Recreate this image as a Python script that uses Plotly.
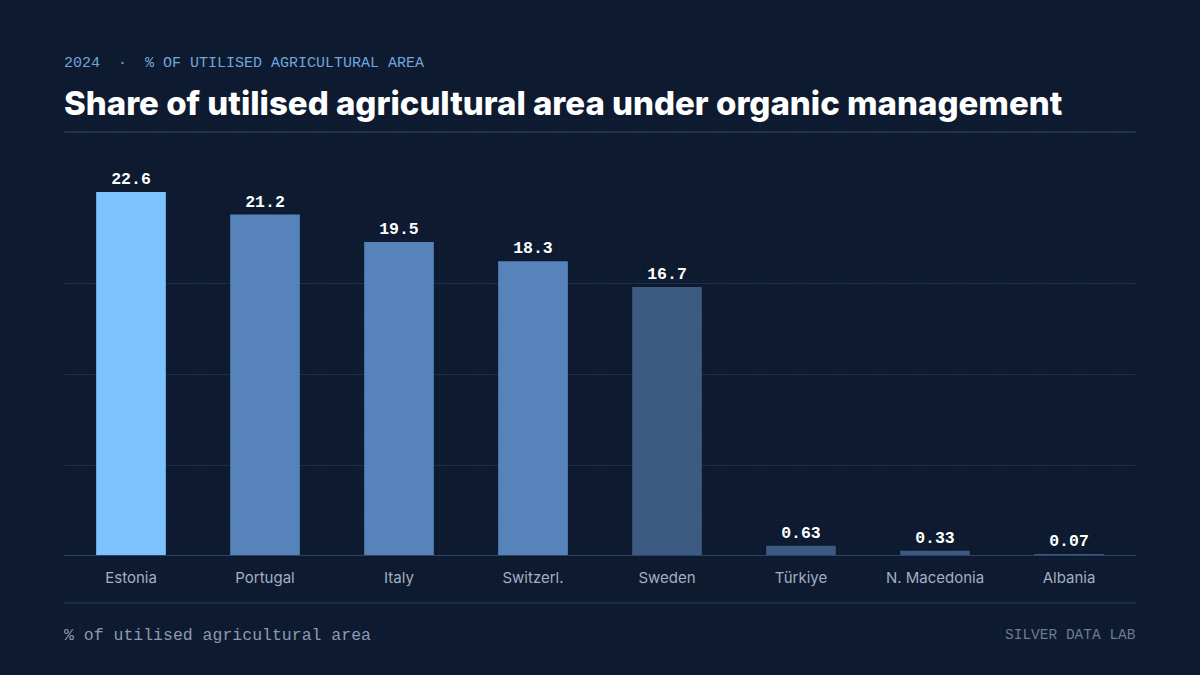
import plotly.graph_objects as go

countries = ["Estonia", "Portugal", "Italy", "Switzerl.", "Sweden", "Türkiye", "N. Macedonia", "Albania"]
shares = [22.6, 21.2, 19.5, 18.3, 16.7, 0.63, 0.33, 0.07]
bar_colors = ["#7cc2ff", "#5783bb", "#5783bb", "#5783bb", "#3d5a82", "#3d5a82", "#3d5a82", "#3d5a82"]

W, H = 1200, 675
L, R, T, B = 64, 64, 150, 119
BG = "#0d1a30"
MONO = "Liberation Mono, DejaVu Sans Mono, monospace"
SANS = "Inter, Roboto, sans-serif"

ymax = max(shares) * (H - T - B) / 364.0
grid_vals = [max(shares) * k / 4 for k in (1, 2, 3)]

fig = go.Figure()
fig.add_trace(go.Bar(
    x=countries, y=shares,
    marker=dict(color=bar_colors, line=dict(width=0)),
    text=[f"{v:g}" for v in shares],
    textposition="outside",
    cliponaxis=False,
    textfont=dict(family=MONO, size=16.5, color="#ffffff", weight="bold"),
    hoverinfo="skip",
))

# background decorative grid (40px cells) in paper coords
pw, ph = W - L - R, H - T - B
shapes = []
for px in range(0, W + 1, 40):
    xf = (px - L) / pw
    shapes.append(dict(type="line", xref="paper", yref="paper", x0=xf, x1=xf,
                       y0=-B / ph, y1=(H - B) / ph,
                       line=dict(color="#13213a", width=1), layer="below"))
for py in range(0, H + 1, 40):
    yf = (H - B - py) / ph
    shapes.append(dict(type="line", xref="paper", yref="paper", x0=-L / pw, x1=(W - L) / pw,
                       y0=yf, y1=yf, line=dict(color="#13213a", width=1), layer="below"))
# header rule & footer rule
for py, col in ((132, "#2a3d5e"), (603, "#22344f")):
    yf = (H - B - py) / ph
    shapes.append(dict(type="line", xref="paper", yref="paper", x0=0, x1=1, y0=yf, y1=yf,
                       line=dict(color=col, width=1.5)))
# baseline
shapes.append(dict(type="line", xref="paper", yref="y", x0=0, x1=1, y0=0, y1=0,
                   line=dict(color="#2e4466", width=2), layer="above"))

fig.update_layout(
    width=W, height=H,
    paper_bgcolor=BG, plot_bgcolor="rgba(0,0,0,0)",
    margin=dict(l=L, r=R, t=T, b=B),
    bargap=0.48,
    showlegend=False,
    shapes=shapes,
    xaxis=dict(showgrid=False, zeroline=False, showline=False, ticks="",
               tickfont=dict(family=SANS, size=15, color="#a3afc2"),
               ticklabelstandoff=11, fixedrange=True),
    yaxis=dict(range=[0, ymax], tickvals=grid_vals, showticklabels=False,
               gridcolor="#1e2f4b", gridwidth=1, zeroline=False, showline=False,
               fixedrange=True),
    annotations=[
        dict(text="2024  ·  % OF UTILISED AGRICULTURAL AREA", xref="paper", yref="paper",
             x=0, y=(H - B - 63) / ph, xanchor="left", yanchor="middle", showarrow=False,
             xshift=-2, font=dict(family=MONO, size=15, color="#6fa6dc")),
        dict(text="Share of utilised agricultural area under organic management",
             xref="paper", yref="paper", x=0, y=(H - B - 103) / ph, xanchor="left",
             yanchor="middle", showarrow=False, xshift=-2,
             font=dict(family=SANS, size=33, color="#ffffff", weight=800)),
        dict(text="% of utilised agricultural area", xref="paper", yref="paper",
             x=0, y=(H - B - 635) / ph, xanchor="left", yanchor="middle", showarrow=False,
             xshift=-2, font=dict(family=MONO, size=16.5, color="#8d9ab0")),
        dict(text="SILVER DATA LAB", xref="paper", yref="paper",
             x=1, y=(H - B - 635) / ph, xanchor="right", yanchor="middle", showarrow=False,
             xshift=2, font=dict(family=MONO, size=14.5, color="#6c7a92")),
    ],
)

fig.write_html("out.html")
